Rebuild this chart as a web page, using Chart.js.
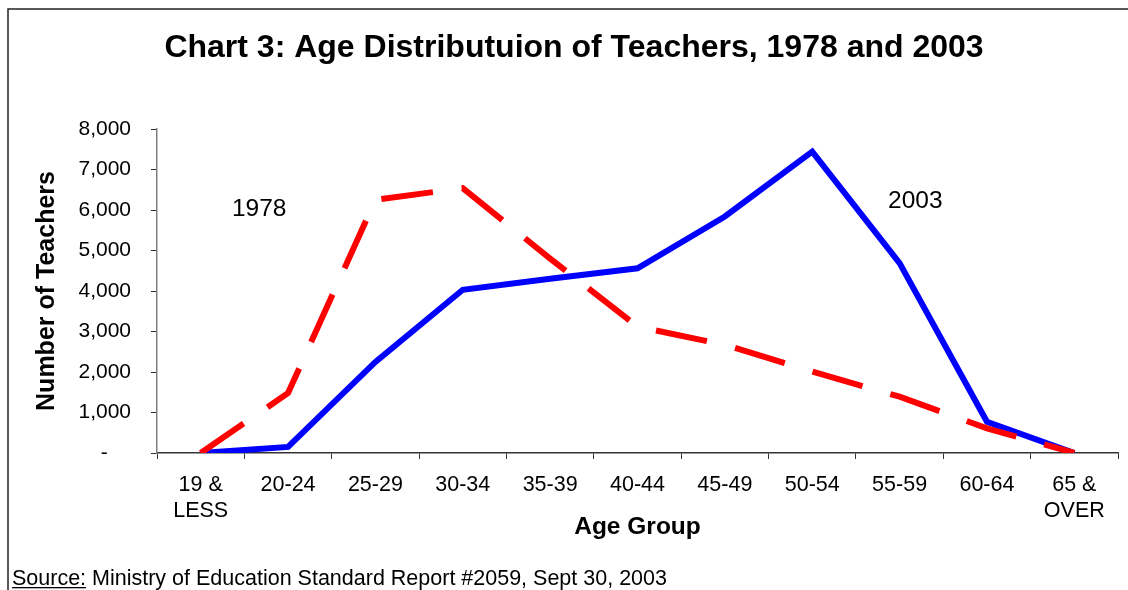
<!DOCTYPE html>
<html>
<head>
<meta charset="utf-8">
<script src="https://cdn.jsdelivr.net/npm/chart.js@4/dist/chart.umd.min.js"></script>
<style>
  html, body { margin: 0; padding: 0; background: #ffffff; }
  #wrap { width: 1128px; height: 590px; position: relative; }
</style>
</head>
<body>
<div id="wrap"><canvas id="c" width="1128" height="590"></canvas></div>
<script>
// ---- data ----
const ageGroups = [['19 &', 'LESS'], '20-24', '25-29', '30-34', '35-39', '40-44', '45-49', '50-54', '55-59', '60-64', ['65 &', 'OVER']];
const teachers1978 = [0, 1480, 6250, 6540, 4800, 3120, 2670, 2010, 1390, 610, 0];
const teachers2003 = [0, 150, 2250, 4030, 4300, 4560, 5840, 7440, 4690, 770, 0];
const yTickValues = [0, 1000, 2000, 3000, 4000, 5000, 6000, 7000, 8000];

const chartTitle = 'Chart 3: Age Distributuion of Teachers, 1978 and 2003';
const sourcePrefix = 'Source:';
const sourceRest = ' Ministry of Education Standard Report #2059, Sept 30, 2003';

const FONT = 'Arial, "Liberation Sans", Helvetica, sans-serif';

const decorPlugin = {
  id: 'decor',
  beforeDraw(chart) {
    const ctx = chart.ctx;
    ctx.save();
    ctx.fillStyle = '#ffffff';
    ctx.fillRect(0, 0, chart.width, chart.height);
    // outer frame (top and left visible)
    ctx.strokeStyle = '#222222';
    ctx.lineWidth = 1.5;
    ctx.beginPath();
    ctx.moveTo(8, 590);
    ctx.lineTo(8, 9);
    ctx.lineTo(1128, 9);
    ctx.stroke();
    ctx.restore();
  },
  afterDraw(chart) {
    const ctx = chart.ctx;
    const xs = chart.scales.x, ys = chart.scales.y;
    ctx.save();
    ctx.fillStyle = '#000000';
    // title
    ctx.font = 'bold 32px ' + FONT;
    ctx.textAlign = 'center';
    ctx.textBaseline = 'middle';
    ctx.fillText(chartTitle, 574, 48);
    // series annotations
    ctx.font = '24.5px ' + FONT;
    ctx.fillText('1978', xs.getPixelForValue(0.67), ys.getPixelForValue(6030));
    ctx.fillText('2003', xs.getPixelForValue(8.18), ys.getPixelForValue(6220));
    // source
    ctx.font = '21.5px ' + FONT;
    ctx.textAlign = 'left';
    ctx.textBaseline = 'alphabetic';
    const sx = 12, sy = 585;
    ctx.fillText(sourcePrefix, sx, sy);
    const w = ctx.measureText(sourcePrefix).width;
    ctx.fillText(sourceRest, sx + w, sy);
    ctx.fillRect(sx, sy + 2, w, 1.3);
    ctx.restore();
  }
};

new Chart(document.getElementById('c'), {
  type: 'line',
  data: {
    labels: ageGroups,
    datasets: [
      {
        label: '1978',
        data: teachers1978,
        borderColor: '#ff0000',
        backgroundColor: '#ff0000',
        borderWidth: 6,
        borderDash: [52, 29],
        borderCapStyle: 'butt',
        borderJoinStyle: 'miter',
        pointRadius: 0,
        tension: 0,
        fill: false
      },
      {
        label: '2003',
        data: teachers2003,
        borderColor: '#0000ff',
        backgroundColor: '#0000ff',
        borderWidth: 6,
        borderCapStyle: 'butt',
        borderJoinStyle: 'miter',
        pointRadius: 0,
        tension: 0,
        fill: false
      }
    ]
  },
  options: {
    responsive: false,
    animation: false,
    events: [],
    layout: { padding: { left: 8, right: 10, top: 129, bottom: 38 } },
    plugins: {
      legend: { display: false },
      title: { display: false },
      tooltip: { enabled: false }
    },
    scales: {
      x: {
        type: 'category',
        offset: true,
        grid: {
          offset: true,
          drawOnChartArea: false,
          drawTicks: true,
          tickLength: 6,
          color: '#333333',
          lineWidth: 1
        },
        border: { display: true, color: '#333333', width: 1.5 },
        ticks: {
          color: '#000000',
          font: { family: FONT, size: 21.5, lineHeight: 1.22 },
          padding: 13,
          maxRotation: 0,
          autoSkip: false
        },
        title: {
          display: true,
          text: 'Age Group',
          color: '#000000',
          font: { family: FONT, size: 24.5, weight: 'bold', lineHeight: 1.2 },
          padding: { top: 0, bottom: 10 }
        },
        afterFit(scale) { scale.height = 99; }
      },
      y: {
        min: 0,
        max: 8000,
        afterBuildTicks(scale) { scale.ticks = yTickValues.map(v => ({ value: v })); },
        grid: {
          drawOnChartArea: false,
          drawTicks: true,
          tickLength: 6,
          color: '#333333',
          lineWidth: 1
        },
        border: { display: true, color: '#808080', width: 1.5 },
        ticks: {
          color: '#000000',
          font: { family: FONT, size: 21 },
          padding: 20,
          callback(v) { return v === 0 ? '-\u2007\u2007' : v.toLocaleString('en-US'); }
        },
        title: {
          display: true,
          text: 'Number of Teachers',
          color: '#000000',
          font: { family: FONT, size: 25, weight: 'bold', lineHeight: 1.2 },
          padding: { top: 24, bottom: 0 }
        },
        afterFit(scale) { scale.width = 149; }
      }
    }
  },
  plugins: [decorPlugin]
});
</script>
</body>
</html>
